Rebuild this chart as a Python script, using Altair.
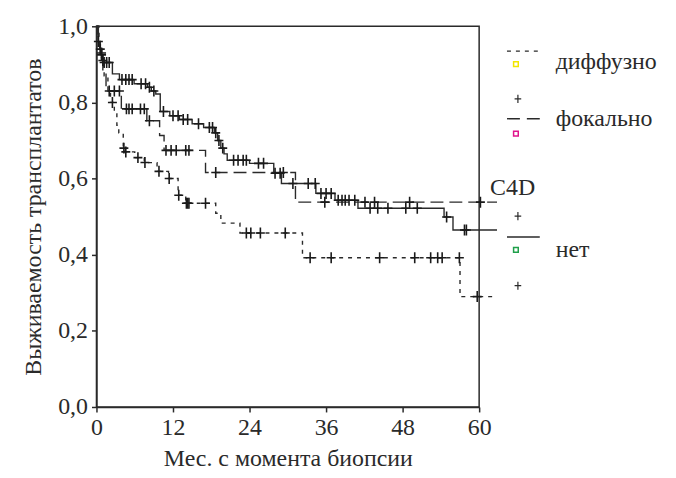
import altair as alt
import pandas as pd

FONT = "Liberation Serif"
INK = "#2a2a2a"

# Kaplan-Meier step points (month, survival)
net_t = [0, 0.15, 0.3, 0.5, 0.7, 1.0, 2.5, 3.6, 5.9, 8.0, 8.6, 9.3, 10.0, 11.5, 13.0, 15.0, 16.8,
         18.5, 19.0, 19.5, 20.0, 20.5, 24.0, 27.8, 29.0, 34.4, 37.4, 41.0, 54.5, 55.9, 62.8]
net_s = [1.0, 0.98, 0.96, 0.94, 0.925, 0.905, 0.875, 0.86, 0.849, 0.84, 0.83, 0.822, 0.776, 0.765,
         0.755, 0.744, 0.734, 0.72, 0.70, 0.68, 0.665, 0.648, 0.64, 0.614, 0.587, 0.561, 0.543,
         0.522, 0.499, 0.465, 0.465]
net_cens = [0.3, 0.6, 0.8, 1.2, 1.6, 2.0, 4.0, 4.6, 5.1, 5.6, 7.0, 7.7, 8.3, 9.0, 10.5, 12.0, 12.8,
            13.6, 14.3, 16.0, 17.7, 18.2, 18.7, 19.2, 19.8, 21.5, 22.2, 23.0, 23.5, 25.4, 26.2,
            28.0, 28.8, 30.8, 33.2, 34.3, 35.2, 36.0, 36.8, 37.9, 38.5, 39.0, 39.6, 40.5, 42.9,
            44.1, 45.7, 48.5, 50.3, 54.9, 57.7, 58.0]

foc_t = [0, 0.3, 0.6, 1.0, 1.5, 3.9, 7.9, 9.9, 10.6, 17.1, 31.2, 62.8]
foc_s = [1.0, 0.96, 0.93, 0.88, 0.83, 0.783, 0.752, 0.713, 0.674, 0.616, 0.538, 0.538]
foc_cens = [0.8, 2.0, 2.8, 3.6, 4.7, 5.1, 5.6, 6.9, 7.5, 8.3, 10.9, 11.7, 12.5, 14.0, 14.5,
            18.7, 29.3, 35.8, 42.1, 43.6, 49.1, 60.2]

dif_t = [0, 0.4, 0.8, 1.2, 1.8, 2.2, 2.8, 3.2, 3.5, 4.2, 4.5, 6.0, 7.5, 9.5, 11.3, 12.8, 14.0,
         18.7, 19.5, 22.5, 32.3, 57.0, 62.3]
dif_s = [1.0, 0.95, 0.91, 0.87, 0.83, 0.80, 0.77, 0.74, 0.72, 0.68, 0.67, 0.655, 0.642, 0.619,
         0.60, 0.556, 0.535, 0.509, 0.483, 0.457, 0.392, 0.29, 0.29]
dif_cens = [1.0, 2.5, 4.3, 4.6, 6.5, 7.6, 9.8, 11.4, 12.9, 14.1, 14.3, 14.5, 17.1, 23.5, 24.2,
            25.7, 29.6, 33.5, 36.8, 44.4, 49.9, 52.4, 53.5, 54.2, 56.9, 59.7]

x_ticks = [0, 12, 24, 36, 48, 60]
y_ticks = [0.0, 0.2, 0.4, 0.6, 0.8, 1.0]

legend_names = ["диффузно", "фокально", "нет"]
legend_title = "C4D"
square_colors = ["#f2e600", "#e0148c", "#1fa04a"]


def step_value(ts, ss, t):
    v = ss[0]
    for tt, s in zip(ts, ss):
        if tt <= t:
            v = s
    return v


def curve_df(ts, ss):
    return pd.DataFrame({"t": ts, "s": ss})


def cens_df(ts, ss, cens):
    return pd.DataFrame({"t": cens, "s": [step_value(ts, ss, c) for c in cens]})


xs = alt.Scale(domain=[0, 60], nice=False)
ys = alt.Scale(domain=[0, 1], nice=False)

plus_path = "M-0.9,0L0.9,0M0,-1.1L0,1.1"


def curve(ts, ss, dash):
    kw = dict(interpolate="step-after", color=INK, strokeWidth=1.4)
    if dash:
        kw["strokeDash"] = dash
    return alt.Chart(curve_df(ts, ss)).mark_line(**kw).encode(
        x=alt.X("t:Q", scale=xs,
                axis=alt.Axis(values=x_ticks, title="Мес. с момента биопсии", grid=False,
                              format="d", labelFlush=False, titleY=59,
                              titleBaseline="alphabetic")),
        y=alt.Y("s:Q", scale=ys,
                axis=alt.Axis(values=y_ticks, title="Выживаемость трансплантатов", grid=False,
                              labelFlush=False,
                              labelExpr="replace(format(datum.value, '.1f'), '.', ',')")),
    )


def cens(ts, ss, c):
    return alt.Chart(cens_df(ts, ss, c)).mark_point(
        shape=plus_path, size=100, filled=False, color="#1a1a1a", strokeWidth=1.6, opacity=1
    ).encode(x=alt.X("t:Q", scale=xs), y=alt.Y("s:Q", scale=ys))


layers = [
    curve(net_t, net_s, None),
    curve(foc_t, foc_s, [13, 6]),
    curve(dif_t, dif_s, [4, 5]),
    cens(net_t, net_s, net_cens),
    cens(foc_t, foc_s, foc_cens),
    cens(dif_t, dif_s, dif_cens),
]

# legend decorations (pixel positions inside the chart)
leg_line_y = [25, 93, 212]
leg_dash = [[4, 5], [13, 7], None]
for i in range(3):
    kw = dict(color=INK, strokeWidth=1.4)
    if leg_dash[i]:
        kw["strokeDash"] = leg_dash[i]
    layers.append(alt.Chart(pd.DataFrame({"a": [0]})).mark_rule(**kw).encode(
        x=alt.value(413), x2=alt.value(446), y=alt.value(leg_line_y[i])))

sq_y = [38, 108, 225]
for i in range(3):
    layers.append(alt.Chart(pd.DataFrame({"a": [0]})).mark_point(
        shape="square", size=22, filled=False, color=square_colors[i], strokeWidth=1.5, opacity=1
    ).encode(x=alt.value(422), y=alt.value(sq_y[i])))

plus_y = [73, 191, 261]
for py in plus_y:
    layers.append(alt.Chart(pd.DataFrame({"a": [0]})).mark_point(
        shape=plus_path, size=55, filled=False, color=INK, strokeWidth=1.2, opacity=1
    ).encode(x=alt.value(424), y=alt.value(py)))

text_y = [36, 93, 225]
for i in range(3):
    layers.append(alt.Chart(pd.DataFrame({"a": [0]})).mark_text(
        text=legend_names[i], font=FONT, fontSize=24, color=INK, align="left", baseline="middle"
    ).encode(x=alt.value(462), y=alt.value(text_y[i])))

layers.append(alt.Chart(pd.DataFrame({"a": [0]})).mark_text(
    text=legend_title, font=FONT, fontSize=24, color=INK, align="left", baseline="middle"
).encode(x=alt.value(396), y=alt.value(163)))

chart = alt.layer(*layers).properties(
    width=385, height=383,
    autosize=alt.AutoSizeParams(type="none"),
    padding={"left": 89, "top": 17, "right": 190, "bottom": 62},
).configure_view(
    stroke=INK, strokeWidth=1.5
).configure_axis(
    labelFont=FONT, titleFont=FONT, labelFontSize=24, titleFontSize=24,
    labelColor=INK, titleColor=INK, titleFontWeight="normal",
    domainColor=INK, tickColor=INK, domainWidth=1.5, tickWidth=1.5, tickSize=5,
).configure_axisX(
    labelPadding=4
).configure_axisY(
    labelPadding=4, titlePadding=12
)

chart.save("out.html", embed_options={"renderer": "svg", "actions": False})
